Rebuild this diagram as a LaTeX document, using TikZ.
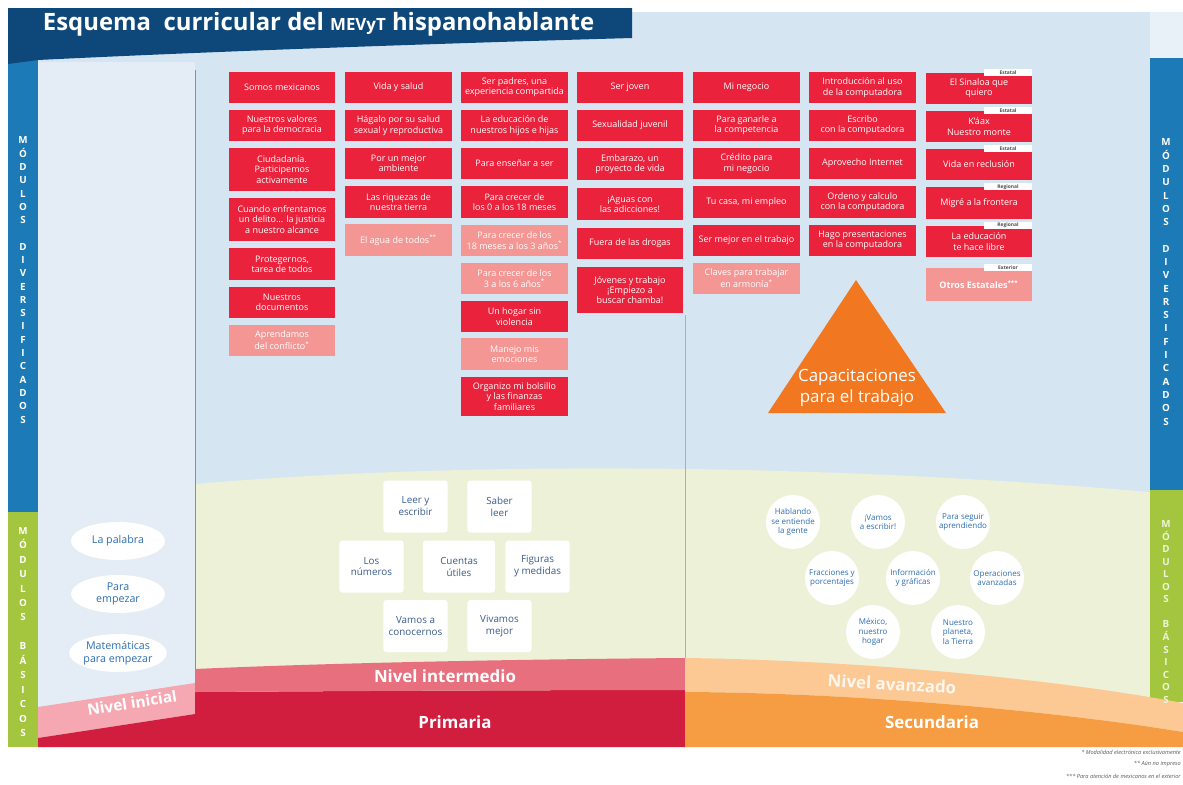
\documentclass[tikz,border=0pt]{standalone}
\usepackage{fontspec}
\setmainfont{Open Sans}
\usepackage{tikz}
\usetikzlibrary{shapes.geometric}

\definecolor{navy}{RGB}{14,72,122}
\definecolor{stripeblue}{RGB}{28,122,182}
\definecolor{stripegreen}{RGB}{163,198,62}
\definecolor{panelblue}{RGB}{214,229,242}
\definecolor{colblue}{RGB}{228,236,245}
\definecolor{cream}{RGB}{237,241,216}
\definecolor{modred}{RGB}{234,34,60}
\definecolor{modlight}{RGB}{244,150,148}
\definecolor{midpink}{RGB}{232,112,126}
\definecolor{inipink}{RGB}{245,168,178}
\definecolor{crimson}{RGB}{209,30,62}
\definecolor{peach}{RGB}{252,200,148}
\definecolor{secorange}{RGB}{246,156,66}
\definecolor{triorange}{RGB}{241,120,33}
\definecolor{basictext}{RGB}{58,92,140}
\definecolor{circtext}{RGB}{45,110,178}
\definecolor{divred}{RGB}{215,110,122}
\definecolor{divtan}{RGB}{200,165,150}

\begin{document}
\begin{tikzpicture}[x=0.025cm,y=-0.025cm,
    rbox/.style={fill=modred,text=white,minimum width=2.65cm,minimum height=0.78cm,inner sep=0.5pt,align=center,font=\fontsize{6.4}{7.3}\selectfont},
    lbox/.style={rbox,fill=modlight},
    tallbox/.style={minimum height=1.08cm},
    tabbox/.style={fill=white,text=black!70,minimum width=1.2cm,minimum height=0.17cm,inner sep=0pt,anchor=north east,font=\fontsize{3.5}{4}\selectfont\bfseries},
    sqbox/.style={fill=white,rounded corners=2pt,minimum width=1.6cm,minimum height=1.3cm,inner sep=1pt,align=center,text=basictext,font=\fontsize{7}{8.5}\selectfont},
    cbox/.style={circle,fill=white,minimum size=1.35cm,inner sep=0pt,align=center,text=circtext,font=\fontsize{5.7}{6.6}\selectfont},
    obox/.style={ellipse,fill=white,minimum width=2.35cm,minimum height=0.95cm,inner sep=0pt,align=center,text=circtext,font=\fontsize{7.6}{8.8}\selectfont},
    vlabel/.style={text=white,align=center,inner sep=0pt,font=\fontsize{7}{9.45}\selectfont\bfseries},
    bandlabel/.style={text=white,inner sep=0pt,font=\fontsize{12}{14}\selectfont\bfseries},
    notetext/.style={anchor=east,text=black!65,inner sep=0pt,font=\fontsize{4}{5}\selectfont\itshape}]

    \useasboundingbox (0,0) rectangle (1183,784);
    \fill[white] (0,0) rectangle (1183,784);

    % background panels
    \fill[panelblue] (38,12) rectangle (1150,745);
    \fill[panelblue!55!white] (1150,12) rectangle (1183,58);
    \fill[colblue] (38,62) rectangle (195,720);
    \fill[cream] (195,484) .. controls (450,462) and (800,462) .. (1150,492) -- (1150,720) -- (195,720) -- cycle;

    \fill[stripeblue] (8,58) rectangle (38,512);
    \fill[stripegreen] (8,512) rectangle (38,747);
    \fill[stripeblue] (1150,58) rectangle (1183,490);
    \fill[stripegreen] (1150,490) rectangle (1183,702);

    \fill[navy] (8,8) -- (632,8) -- (632,38) .. controls (420,44) and (200,52) .. (38,60) -- (8,64) -- cycle;

    \draw[divred] (195,70) -- (195,690);
    \draw[divtan] (685,315) -- (685,660);

    % bands
    \fill[inipink] (38,707) -- (195,683) -- (195,714) -- (38,738) -- cycle;
    \fill[crimson] (38,738) -- (195,714) -- (195,692) .. controls (350,691) and (550,690) .. (685,690) -- (685,747) -- (38,747) -- cycle;
    \fill[midpink] (195,669) .. controls (350,662) and (550,659) .. (685,658) -- (685,690) .. controls (550,690) and (350,691) .. (195,692) -- cycle;
    \fill[peach] (685,658) .. controls (850,660) and (1050,678) .. (1183,703) -- (1183,732) .. controls (1080,715) and (880,693) .. (685,692) -- cycle;
    \fill[secorange] (685,692) .. controls (880,693) and (1080,715) .. (1183,732) -- (1183,747) -- (685,747) -- cycle;

    \node[anchor=west,text=white,font=\fontsize{17}{20}\selectfont\bfseries] (title) at (38,24) {Esquema\ \ curricular del {\fontsize{12}{14}\selectfont MEVyT} hispanohablante};

    \node[vlabel] (ldiv) at (23,280) {M\\Ó\\D\\U\\L\\O\\S\\[9.45pt]D\\I\\V\\E\\R\\S\\I\\F\\I\\C\\A\\D\\O\\S};
    \node[vlabel,font=\fontsize{7}{10.3}\selectfont\bfseries] (lbas) at (23,632) {M\\Ó\\D\\U\\L\\O\\S\\[10.3pt]B\\Á\\S\\I\\C\\O\\S};
    \node[vlabel] (rdiv) at (1166,282) {M\\Ó\\D\\U\\L\\O\\S\\[9.45pt]D\\I\\V\\E\\R\\S\\I\\F\\I\\C\\A\\D\\O\\S};
    \node[vlabel,text=white!80!stripegreen,font=\fontsize{7}{8.9}\selectfont\bfseries] (rbas) at (1166,612) {M\\Ó\\D\\U\\L\\O\\S\\[8.9pt]B\\Á\\S\\I\\C\\O\\S};

    % diversified modules
    \node[rbox] (c1a) at (282,87.5) {Somos mexicanos};
    \node[rbox] (c1b) at (282,125.5) {Nuestros valores\\para la democracia};
    \node[rbox,tallbox] (c1c) at (282,169.5) {Ciudadanía.\\Participemos\\activamente};
    \node[rbox,tallbox] (c1d) at (282,219.5) {Cuando enfrentamos\\un delito... la justicia\\a nuestro alcance};
    \node[rbox] (c1e) at (282,264) {Protegernos,\\tarea de todos};
    \node[rbox] (c1f) at (282,302.5) {Nuestros\\documentos};
    \node[lbox] (c1g) at (282,340.5) {Aprendamos\\del conflicto\textsuperscript{*}};

    \node[rbox] (c2a) at (398.5,87.5) {Vida y salud};
    \node[rbox] (c2b) at (398.5,125.5) {Hágalo por su salud\\sexual y reproductiva};
    \node[rbox] (c2c) at (398.5,163.5) {Por un mejor\\ambiente};
    \node[rbox] (c2d) at (398.5,202) {Las riquezas de\\nuestra tierra};
    \node[lbox] (c2e) at (398.5,240) {El agua de todos\textsuperscript{**}};

    \node[rbox] (c3a) at (514.5,87.5) {Ser padres, una\\experiencia compartida};
    \node[rbox] (c3b) at (514.5,125.5) {La educación de\\nuestros hijos e hijas};
    \node[rbox] (c3c) at (514.5,163.5) {Para enseñar a ser};
    \node[rbox] (c3d) at (514.5,202) {Para crecer de\\los 0 a los 18 meses};
    \node[lbox] (c3e) at (514.5,240.5) {Para crecer de los\\18 meses a los 3 años\textsuperscript{*}};
    \node[lbox] (c3f) at (514.5,278.5) {Para crecer de los\\3 a los 6 años\textsuperscript{*}};
    \node[rbox] (c3g) at (514.5,316.5) {Un hogar sin\\violencia};
    \node[lbox] (c3h) at (514.5,354) {Manejo mis\\emociones};
    \node[rbox,minimum height=0.98cm] (c3i) at (514.5,396.5) {Organizo mi bolsillo\\y las finanzas\\familiares};

    \node[rbox] (c4a) at (630,87.5) {Ser joven};
    \node[rbox] (c4b) at (630,125.5) {Sexualidad juvenil};
    \node[rbox] (c4c) at (630,164) {Embarazo, un\\proyecto de vida};
    \node[rbox] (c4d) at (630,204) {¡Aguas con\\las adicciones!};
    \node[rbox] (c4e) at (630,243.5) {Fuera de las drogas};
    \node[rbox,minimum height=1.15cm] (c4f) at (630,290) {Jóvenes y trabajo\\¡Empiezo a\\buscar chamba!};

    \node[rbox] (c5a) at (746.5,87.5) {Mi negocio};
    \node[rbox] (c5b) at (746.5,125.5) {Para ganarle a\\la competencia};
    \node[rbox] (c5c) at (746.5,163.5) {Crédito para\\mi negocio};
    \node[rbox] (c5d) at (746.5,202) {Tu casa, mi empleo};
    \node[rbox] (c5e) at (746.5,240.5) {Ser mejor en el trabajo};
    \node[lbox] (c5f) at (746.5,278.5) {Claves para trabajar\\en armonía\textsuperscript{*}};

    \node[rbox] (c6a) at (862.5,87.5) {Introducción al uso\\de la computadora};
    \node[rbox] (c6b) at (862.5,125.5) {Escribo\\con la computadora};
    \node[rbox] (c6c) at (862.5,163.5) {Aprovecho Internet};
    \node[rbox] (c6d) at (862.5,202) {Ordeno y calculo\\con la computadora};
    \node[rbox] (c6e) at (862.5,240.5) {Hago presentaciones\\en la computadora};

    \node[rbox] (c7a) at (979,88.5) {El Sinaloa que\\quiero};
    \node[rbox] (c7b) at (979,126.5) {K'áax\\Nuestro monte};
    \node[rbox] (c7c) at (979,164.5) {Vida en reclusión};
    \node[rbox] (c7d) at (979,203) {Migré a la frontera};
    \node[rbox] (c7e) at (979,241.5) {La educación\\te hace libre};
    \node[lbox,minimum height=0.83cm,font=\fontsize{6.4}{7.3}\selectfont\bfseries] (c7f) at (979,284.5) {Otros Estatales\textsuperscript{***}};

    \node[tabbox] (t7a) at ([yshift=0.1cm]c7a.north east) {Estatal};
    \node[tabbox] (t7b) at ([yshift=0.1cm]c7b.north east) {Estatal};
    \node[tabbox] (t7c) at ([yshift=0.1cm]c7c.north east) {Estatal};
    \node[tabbox] (t7d) at ([yshift=0.1cm]c7d.north east) {Regional};
    \node[tabbox] (t7e) at ([yshift=0.1cm]c7e.north east) {Regional};
    \node[tabbox] (t7f) at ([yshift=0.1cm]c7f.north east) {Exterior};

    \fill[triorange] (856,280) -- (946,413) -- (768,413) -- cycle;
    \node[text=white,align=center,font=\fontsize{12}{14.8}\selectfont] (capac) at (857,388) {Capacitaciones\\para el trabajo};

    % basic modules
    \node[obox] (ov1) at (118,541) {La palabra};
    \node[obox] (ov2) at (118,594) {Para\\empezar};
    \node[obox] (ov3) at (118,653) {Matemáticas\\para empezar};

    \node[sqbox] (sq1) at (415.5,506.5) {Leer y\\escribir};
    \node[sqbox] (sq2) at (499.5,506.5) {Saber\\leer};
    \node[sqbox] (sq3) at (371.5,566.5) {Los\\números};
    \node[sqbox,minimum width=1.8cm] (sq4) at (459,566.5) {Cuentas\\útiles};
    \node[sqbox] (sq5) at (537.5,566.5) {Figuras\\y medidas};
    \node[sqbox] (sq6) at (415.5,626) {Vamos a\\conocernos};
    \node[sqbox] (sq7) at (499.5,626) {Vivamos\\mejor};

    \node[cbox] (ci1) at (793,522) {Hablando\\se entiende\\la gente};
    \node[cbox] (ci2) at (878,522) {¡Vamos\\a escribir!};
    \node[cbox] (ci3) at (963,522) {Para seguir\\aprendiendo};
    \node[cbox] (ci4) at (832,578) {Fracciones y\\porcentajes};
    \node[cbox] (ci5) at (913,578) {Información\\y gráficas};
    \node[cbox] (ci6) at (997,578) {Operaciones\\avanzadas};
    \node[cbox] (ci7) at (873,632) {México,\\nuestro\\hogar};
    \node[cbox] (ci8) at (958,632) {Nuestro\\planeta,\\la Tierra};

    % levels
    \node[bandlabel,rotate=9,font=\fontsize{11}{13}\selectfont\bfseries] (ini) at (132,703) {Nivel inicial};
    \node[bandlabel] (inter) at (445,676) {Nivel intermedio};
    \node[bandlabel,rotate=-3,text=white!85!peach] (avan) at (892,684) {Nivel avanzado};
    \node[bandlabel] (prim) at (455,722) {Primaria};
    \node[bandlabel] (secu) at (932,722) {Secundaria};

    \node[notetext] (n1) at (1181,752) {* Modalidad electrónica exclusivamente};
    \node[notetext] (n2) at (1181,764) {** Aún no impreso};
    \node[notetext] (n3) at (1181,776) {*** Para atención de mexicanos en el exterior};
\end{tikzpicture}
\end{document}
